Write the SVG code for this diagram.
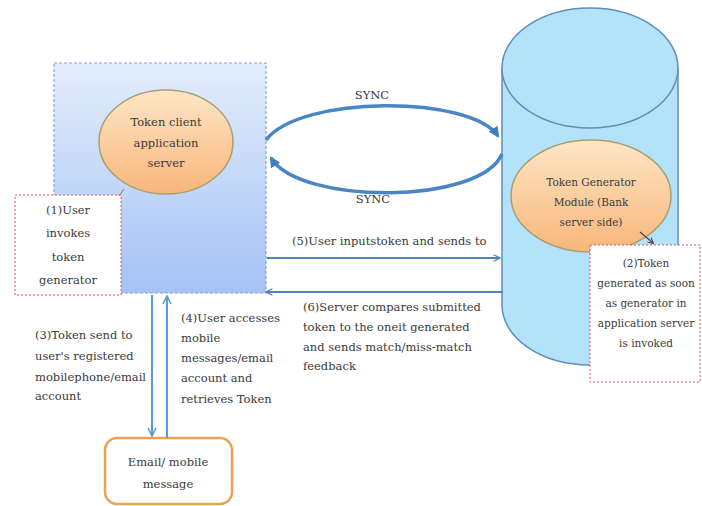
<svg xmlns="http://www.w3.org/2000/svg" width="702" height="506" viewBox="0 0 702 506">
<defs>
<linearGradient id="gBox" x1="0" y1="0" x2="0" y2="1">
<stop offset="0" stop-color="#e4eefc"/>
<stop offset="1" stop-color="#a4c2f4"/>
</linearGradient>
<linearGradient id="gOval" x1="0" y1="0" x2="0" y2="1">
<stop offset="0" stop-color="#fde6c6"/>
<stop offset="1" stop-color="#f8b67a"/>
</linearGradient>
<marker id="ah" viewBox="0 0 10 10" refX="9" refY="5" markerWidth="8" markerHeight="8" orient="auto" markerUnits="userSpaceOnUse">
<path d="M1,1 L9,5 L1,9" fill="none" stroke="#4f81bd" stroke-width="1.6"/>
</marker>
<marker id="ahv" viewBox="0 0 10 10" refX="9" refY="5" markerWidth="10" markerHeight="10" orient="auto" markerUnits="userSpaceOnUse">
<path d="M1,1 L9,5 L1,9" fill="none" stroke="#5b9bd5" stroke-width="1.6"/>
</marker>
<marker id="ahs" viewBox="0 0 10 10" refX="8" refY="5" markerWidth="11" markerHeight="11" orient="auto" markerUnits="userSpaceOnUse">
<path d="M0,0 L10,5 L0,10 Z" fill="#3f7fc0"/>
</marker>
<marker id="ahk" viewBox="0 0 10 10" refX="8" refY="5" markerWidth="7" markerHeight="7" orient="auto" markerUnits="userSpaceOnUse">
<path d="M1,1 L9,5 L1,9" fill="none" stroke="#444" stroke-width="1.5"/>
</marker>
</defs>
<style>
text{font-family:"DejaVu Serif","Liberation Serif",serif;fill:#3a3a3a;font-size:11.5px}
.c{text-anchor:middle}
.sm{font-size:10.5px}
.oval{fill:url(#gOval);stroke:#a8a070;stroke-width:1.5}
.note{fill:#fff;stroke:#e05060;stroke-width:1;stroke-dasharray:2 2}
</style>
<rect width="702" height="506" fill="#fff"/>

<g id="client-area">
<rect x="54" y="63" width="212" height="230" fill="url(#gBox)" stroke="#8aa4d0" stroke-width="1.2" stroke-dasharray="3 2"/>
</g>

<g id="bank-cylinder">
<path d="M502,68 L502,305 A88,60 0 0 0 678,305 L678,68" fill="#b3e3fa" stroke="#5f8fb8" stroke-width="1.5"/>
<ellipse cx="590" cy="68" rx="88" ry="60" fill="#b3e3fa" stroke="#5f8fb8" stroke-width="1.5"/>
</g>

<g id="token-client">
<ellipse class="oval" cx="166" cy="142" rx="67" ry="52"/>
<text class="c" x="166" y="126">Token client</text>
<text class="c" x="166" y="147">application</text>
<text class="c" x="166" y="167">server</text>
</g>

<g id="token-generator">
<ellipse class="oval" cx="591" cy="196" rx="80" ry="56"/>
<text class="c sm" x="591" y="186">Token Generator</text>
<text class="c sm" x="591" y="206">Module (Bank</text>
<text class="c sm" x="591" y="226">server side)</text>
</g>

<g id="note1">
<rect class="note" x="15" y="195" width="106" height="100"/>
<text class="c" x="68" y="214">(1)User</text>
<text class="c" x="68" y="237">invokes</text>
<text class="c" x="68" y="261">token</text>
<text class="c" x="68" y="284">generator</text>
</g>

<g id="note2">
<rect class="note" x="590" y="245" width="110" height="137"/>
<text class="c sm" x="646" y="267">(2)Token</text>
<text class="c sm" x="646" y="287">generated as soon</text>
<text class="c sm" x="646" y="307">as generator in</text>
<text class="c sm" x="646" y="327">application server</text>
<text class="c sm" x="646" y="347">is invoked</text>
</g>

<g id="email">
<rect x="105" y="438" width="127" height="66" rx="12" fill="#fff" stroke="#f0a050" stroke-width="2.5"/>
<text class="c" x="168" y="466">Email/ mobile</text>
<text class="c" x="168" y="488">message</text>
</g>

<g id="connectors">
<path d="M266,140 C300,95 470,95 498,136" fill="none" stroke="#4a86c5" stroke-width="3.5" marker-end="url(#ahs)"/>
<path d="M502,154 C480,205 300,205 271,158" fill="none" stroke="#4a86c5" stroke-width="3.5" marker-end="url(#ahs)"/>
<line x1="267" y1="258" x2="500" y2="258" stroke="#4f81bd" stroke-width="2" marker-end="url(#ah)"/>
<line x1="503" y1="292" x2="266" y2="292" stroke="#4f81bd" stroke-width="2" marker-end="url(#ah)"/>
<line x1="152" y1="295" x2="152" y2="436" stroke="#5b9bd5" stroke-width="2" marker-end="url(#ahv)"/>
<line x1="167" y1="438" x2="167" y2="296" stroke="#5b9bd5" stroke-width="2" marker-end="url(#ahv)"/>
<line x1="124" y1="189" x2="119" y2="196" stroke="#e05060" stroke-width="1"/>
<line x1="640" y1="232" x2="653" y2="243" stroke="#444" stroke-width="1.2" marker-end="url(#ahk)"/>
</g>

<g id="labels">
<text class="c" x="372" y="99" font-size="12.5">SYNC</text>
<text class="c" x="373" y="203" font-size="12.5">SYNC</text>
<text x="292" y="245">(5)User inputstoken and sends to</text>
<text x="303" y="311">(6)Server compares submitted</text>
<text x="303" y="331">token to the oneit generated</text>
<text x="303" y="351">and sends match/miss-match</text>
<text x="303" y="370">feedback</text>
<text x="35" y="339">(3)Token send to</text>
<text x="35" y="360">user's registered</text>
<text x="35" y="381">mobilephone/email</text>
<text x="35" y="400">account</text>
<text x="181" y="322">(4)User accesses</text>
<text x="181" y="342">mobile</text>
<text x="181" y="362">messages/email</text>
<text x="181" y="382">account and</text>
<text x="181" y="403">retrieves Token</text>
</g>
</svg>
